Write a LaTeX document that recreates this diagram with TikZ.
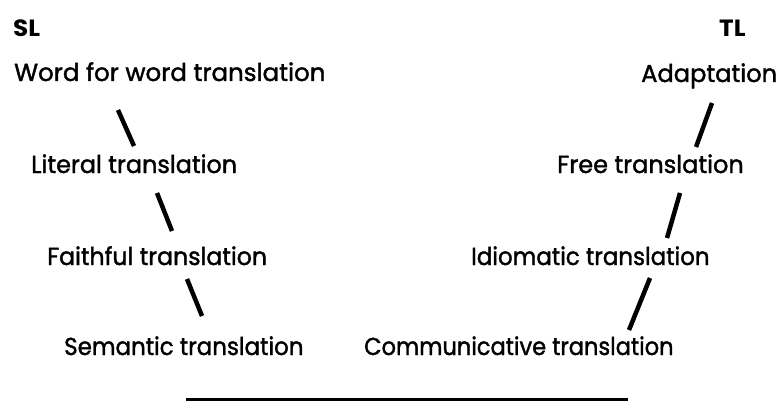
\documentclass[tikz,border=0pt]{standalone}
\usepackage{graphicx}
\usepackage{fontspec}
\setmainfont{Poppins}
\newfontfamily\lblfont{Poppins}[FakeBold=1.5]
\newcommand{\hsq}[2]{\scalebox{#1}[1]{#2}}
\begin{document}
\begin{tikzpicture}[x=1pt,y=-1pt,
  lbl/.style={anchor=base west,inner sep=0pt,font=\lblfont\fontsize{24.5}{26}\selectfont},
  hdr/.style={anchor=base west,inner sep=0pt,font=\fontsize{23.5}{25}\selectfont\bfseries},
  seg/.style={line width=4.5pt}]
\useasboundingbox (0,0) rectangle (781,401);
\node[hdr] (sl) at (13,37) {\hsq{1.05}{SL}};
\node[hdr] (tl) at (719,37) {\hsq{1.05}{TL}};
\node[lbl] (w) at (14,81) {\hsq{1.0}{Word for word translation}};
\node[lbl] (l) at (31,173) {\hsq{0.976}{Literal translation}};
\node[lbl] (f) at (47,265) {\hsq{0.965}{Faithful translation}};
\node[lbl] (s) at (64,355) {\hsq{0.937}{Semantic translation}};
\node[lbl] (a) at (641,82) {\hsq{0.985}{Adaptation}};
\node[lbl] (fr) at (557,173) {\hsq{0.98}{Free translation}};
\node[lbl] (i) at (471,265) {\hsq{0.937}{Idiomatic translation}};
\node[lbl] (c) at (364,355) {\hsq{0.92}{Communicative translation}};
\coordinate (w1) at (118,110); \coordinate (w2) at (134,146);
\coordinate (l1) at (157,193); \coordinate (l2) at (172,231);
\coordinate (f1) at (187,279); \coordinate (f2) at (202,316);
\coordinate (a1) at (712,103); \coordinate (a2) at (696,147);
\coordinate (r1) at (680,193); \coordinate (r2) at (667,238);
\coordinate (i1) at (650,278); \coordinate (i2) at (629,330);
\draw[seg] (w1) -- (w2);
\draw[seg] (l1) -- (l2);
\draw[seg] (f1) -- (f2);
\draw[seg] (a1) -- (a2);
\draw[seg] (r1) -- (r2);
\draw[seg] (i1) -- (i2);
\coordinate (b1) at (186,399.5); \coordinate (b2) at (628,399.5);
\draw[line width=4pt] (b1) -- (b2);
\end{tikzpicture}
\end{document}
